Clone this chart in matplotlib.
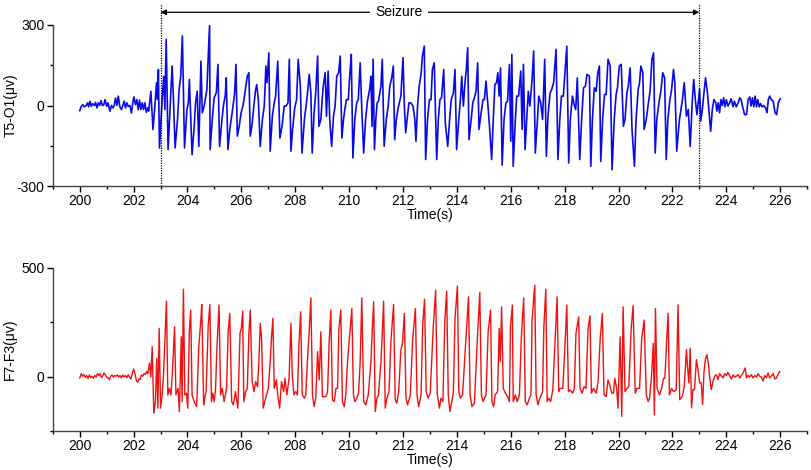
import matplotlib

matplotlib.use("Agg")
import matplotlib.pyplot as plt
import numpy as np
from matplotlib.ticker import MultipleLocator

plt.rcParams.update({
    "font.family": ["Liberation Sans", "DejaVu Sans"],
    "font.size": 10,
    "axes.linewidth": 1.0,
    "axes.edgecolor": "#444444",
    "axes.unicode_minus": False,
})

# ---- T5-O1 channel, (time s, amplitude uV) ---------------------------------
T5O1_PRE = [
    (200.00, -19), (200.06, -3), (200.11, 3), (200.17, -5), (200.24, 0), (200.29, 10),
    (200.33, -5), (200.38, 16), (200.43, -3), (200.48, 7), (200.55, 0), (200.59, 12),
    (200.64, -9), (200.69, 10), (200.74, 0), (200.79, 18), (200.84, 0), (200.89, 2),
    (200.94, 22), (201.00, -3), (201.05, 10), (201.12, -21), (201.18, 0), (201.23, -9),
    (201.28, 0), (201.33, 28), (201.38, 0), (201.43, 35), (201.49, -5), (201.55, -15),
    (201.60, 0), (201.65, 16), (201.70, -9), (201.75, 10), (201.80, -3), (201.86, 0),
    (201.92, -28), (201.97, 10), (202.01, 32), (202.07, 3), (202.12, 22), (202.17, -15),
    (202.22, 20), (202.27, -15), (202.32, 10), (202.37, -15), (202.42, 10), (202.47, -25),
    (202.52, -9), (202.56, -21),
]
T5O1_SEIZ_A = [
    (202.64, 53), (202.72, -89), (202.79, -2), (202.85, 85), (202.89, 22), (202.92, 134),
    (202.96, -158), (203.02, -52), (203.07, 41), (203.12, 109), (203.16, -15), (203.21, 246),
    (203.28, -164), (203.36, -2), (203.43, 147), (203.48, 22), (203.54, -158), (203.63, -52),
    (203.69, 60), (203.75, 109), (203.81, 259), (203.89, -158), (203.98, -15), (204.03, 10),
    (204.07, 97), (204.17, -183), (204.25, -77), (204.30, 10), (204.36, 53), (204.42, -152),
    (204.50, 165), (204.55, -27), (204.62, -2), (204.72, 60), (204.82, 302), (204.84, -164),
    (204.92, -52), (204.99, 29), (205.07, 47), (205.13, 153), (205.19, -152), (205.28, -52),
    (205.34, 4), (205.40, 35), (205.44, 103), (205.50, -164), (205.57, -89), (205.64, -40),
    (205.69, -2), (205.75, 47), (205.80, 153), (205.85, -114), (205.92, -77), (205.99, -27),
    (206.07, 4), (206.13, 47), (206.22, 109), (206.28, 122), (206.33, -114), (206.39, -77),
    (206.45, -15), (206.52, 53), (206.57, 78), (206.63, 22), (206.70, -152), (206.78, -52),
    (206.85, -2), (206.91, 147), (206.95, 85), (207.02, 196), (207.07, -170), (207.15, -40),
    (207.22, 10), (207.27, 35), (207.35, 165), (207.43, -121), (207.51, -77), (207.59, -2),
    (207.66, -2), (207.73, 10), (207.78, 172), (207.84, -170), (207.90, -89), (207.98, -9),
    (208.05, 22), (208.11, 172), (208.19, 72), (208.25, -177), (208.34, -52),
]
T5O1_SEIZ_B = [
    (208.43, 22), (208.52, 116), (208.58, 47), (208.63, -177), (208.70, -27), (208.76, 47),
    (208.83, 184), (208.88, -77), (208.95, -52), (209.00, 22), (209.04, 72), (209.11, 122),
    (209.16, -40), (209.22, 128), (209.28, -52), (209.35, -152), (209.42, -40), (209.48, -2),
    (209.54, 109), (209.61, 122), (209.67, 184), (209.73, -121), (209.79, -52), (209.84, -15),
    (209.90, 22), (209.97, 22), (210.03, 122), (210.08, 190), (210.14, -195), (210.21, -52),
    (210.28, 10), (210.34, 22), (210.41, 159), (210.47, -15), (210.54, -177), (210.61, -52),
    (210.68, 16), (210.76, 60), (210.81, 109), (210.85, -77), (210.89, 172), (210.94, -164),
    (210.99, -52), (211.04, 10), (211.09, 16), (211.18, 72), (211.23, 172), (211.30, -152),
    (211.38, -52), (211.45, -2), (211.51, 72), (211.58, 103), (211.64, 147), (211.69, -127),
    (211.75, -52), (211.82, -9), (211.92, 35), (212.00, 178), (212.05, -2), (212.10, -102),
    (212.15, -52), (212.22, 10), (212.29, 10), (212.37, -2), (212.44, -52), (212.48, -133),
    (212.54, -2), (212.60, 72), (212.67, 116), (212.72, 184), (212.79, 221), (212.84, -201),
    (212.91, -52), (212.98, 22), (213.04, 22), (213.09, 134), (213.16, 159), (213.25, -201),
    (213.31, -52), (213.37, 22), (213.43, 29), (213.51, 134), (213.57, -65), (213.66, -152),
    (213.73, -52), (213.79, 22), (213.87, 47), (213.93, 134), (213.99, -164), (214.07, -52),
    (214.13, 22), (214.18, 109), (214.24, -2), (214.30, 85), (214.35, 134), (214.40, 215),
    (214.45, -127), (214.53, -52), (214.59, 10), (214.65, 29), (214.71, 53), (214.77, 159),
    (214.82, -89), (214.90, -27), (214.97, 22), (215.02, 22), (215.08, 91), (215.14, 16),
    (215.21, -77),
]
T5O1_SEIZ_C = [
    (215.29, -201), (215.35, -52), (215.41, 78), (215.47, 85), (215.52, 122), (215.57, 35),
    (215.62, 140), (215.68, -222), (215.75, -52), (215.82, 10), (215.88, 16), (215.95, 153),
    (216.00, -133), (216.04, 190), (216.09, -226), (216.17, -52), (216.22, 35), (216.29, 35),
    (216.37, 128), (216.42, -89), (216.47, 153), (216.53, -164), (216.59, -52), (216.65, 53),
    (216.71, -2), (216.79, 97), (216.85, 203), (216.91, -177), (216.99, -52), (217.04, 35),
    (217.11, 10), (217.18, -52), (217.26, 172), (217.32, -189), (217.38, -40), (217.46, 47),
    (217.52, 60), (217.59, 85), (217.68, 209), (217.75, -201), (217.82, -52), (217.88, 35),
    (217.95, 35), (218.03, 153), (218.08, 221), (218.15, -214), (218.21, -52), (218.29, 35),
    (218.35, 4), (218.41, -15), (218.47, 103), (218.56, -201), (218.63, -52), (218.70, 66),
    (218.77, 72), (218.83, 116), (218.92, 109), (218.97, -226), (219.03, -52), (219.10, 66),
    (219.17, 53), (219.23, 122), (219.29, 147), (219.34, -208), (219.41, -52), (219.48, 41),
    (219.54, 41), (219.61, 172), (219.69, 147), (219.76, -239), (219.84, -52), (219.91, 41),
    (219.96, 66), (220.03, 147), (220.10, 153), (220.18, -77), (220.24, -52), (220.31, 47),
    (220.36, 72), (220.43, 140), (220.50, -89), (220.59, -226), (220.65, -52), (220.73, 60),
    (220.78, 85), (220.83, 147), (220.90, 122), (220.95, -89), (221.03, -52), (221.10, 4),
    (221.17, 53), (221.24, 172), (221.30, 196), (221.36, -177), (221.42, -52), (221.50, 10),
    (221.57, 53), (221.64, 122), (221.71, 103), (221.77, -201), (221.83, -52), (221.90, 16),
    (221.97, 60), (222.04, 134), (222.09, 85), (222.16, -170), (222.26, -52),
]
T5O1_POST = [
    (222.29, -34), (222.37, 22), (222.44, 85), (222.52, -40), (222.59, -15), (222.66, -152),
    (222.74, 22), (222.79, 97), (222.85, 22), (222.91, -34), (222.97, 22), (223.01, 60),
    (223.05, -58), (223.11, -15), (223.17, 47), (223.23, 103), (223.30, 47), (223.36, -27),
    (223.42, -96), (223.48, -15), (223.54, 22), (223.61, 10), (223.65, -21), (223.70, 10),
    (223.75, -27), (223.80, 22), (223.85, 0), (223.90, 29), (223.95, -5), (224.00, 22),
    (224.06, -2), (224.13, 12), (224.18, 25), (224.25, -5), (224.30, 16), (224.37, -5),
    (224.44, 10), (224.50, 29), (224.55, 22), (224.60, -2), (224.68, -34), (224.75, -34),
    (224.81, 22), (224.87, 32), (224.92, -2), (224.97, 29), (225.02, -5), (225.07, 35),
    (225.12, -5), (225.17, 22), (225.22, -5), (225.27, 7), (225.33, -5), (225.39, 0),
    (225.46, -9), (225.51, -27), (225.56, 22), (225.61, 35), (225.67, 22), (225.74, 16),
    (225.81, -27), (225.87, -34), (225.93, 10), (225.98, 22), (226.01, 25),
]

# ---- F7-F3 channel ----------------------------------------------------------
F7F3_PRE = [
    (200.00, -6), (200.06, 14), (200.11, 2), (200.16, 9), (200.21, -3), (200.26, 5),
    (200.31, -8), (200.36, 8), (200.41, -5), (200.46, 2), (200.51, -8), (200.56, 5),
    (200.61, -2), (200.66, 14), (200.71, 5), (200.76, 14), (200.81, -5), (200.86, 5),
    (200.90, 17), (200.95, 8), (201.00, -2), (201.05, -5), (201.10, -14), (201.15, 2),
    (201.20, 8), (201.25, -2), (201.30, 5), (201.35, 2), (201.40, 8), (201.45, -2),
    (201.50, 5), (201.55, -6), (201.60, 8), (201.65, -2), (201.70, 5), (201.75, -5),
    (201.80, 8), (201.85, -2), (201.90, -11), (201.95, 14), (202.00, 35), (202.05, 14),
    (202.10, -17), (202.15, -26), (202.20, -11), (202.24, -14), (202.29, 8), (202.34, 2),
    (202.39, 14), (202.44, 11), (202.49, 24), (202.53, 14), (202.59, 63), (202.64, -2),
]
F7F3_SEIZ_A = [
    (202.69, 138), (202.75, -168), (202.81, -115), (202.86, 84), (202.90, -145), (202.95, 222),
    (203.00, -145), (203.06, -84), (203.11, 8), (203.16, 161), (203.22, 347), (203.27, -84),
    (203.33, -54), (203.39, -84), (203.46, 69), (203.52, 229), (203.57, -84), (203.65, -54),
    (203.70, -161), (203.77, 183), (203.80, -115), (203.85, 402), (203.90, -84), (203.96, -76),
    (204.01, -145), (204.07, 214), (204.12, 306), (204.17, -84), (204.25, -115), (204.34, -138),
    (204.42, 138), (204.50, 268), (204.53, 332), (204.60, -130), (204.64, -99), (204.69, -69),
    (204.77, 237), (204.83, 332), (204.89, -115), (204.94, -76), (204.99, -115), (205.04, -61),
    (205.10, 153), (205.17, 329), (205.23, -84), (205.29, -54), (205.36, -115), (205.45, -54),
    (205.51, 206), (205.57, 291), (205.64, -115), (205.70, -130), (205.78, -69), (205.87, -145),
    (205.95, 199), (206.00, 222), (206.05, 301), (206.09, -115), (206.16, -69), (206.22, -54),
    (206.28, 199), (206.33, 306), (206.40, -23), (206.47, -69), (206.53, -23), (206.60, -46),
    (206.65, 69), (206.70, 245), (206.75, 176), (206.81, -145), (206.90, -99), (207.00, -54),
    (207.07, 69), (207.12, 183), (207.17, 268), (207.22, -54), (207.30, -15), (207.35, -84),
    (207.42, -145), (207.49, -23), (207.57, -69), (207.62, -8), (207.69, -84), (207.77, -8),
    (207.84, 245), (207.89, 8), (207.95, -84), (208.02, -69), (208.08, -84), (208.14, 153),
    (208.20, 298), (208.26, -84), (208.34, -99),
]
F7F3_SEIZ_B = [
    (208.39, -84), (208.45, 69), (208.52, 214), (208.58, 362), (208.64, -84), (208.70, -138),
    (208.76, -99), (208.83, 115), (208.89, -15), (208.95, 206), (209.01, -92), (209.07, -92),
    (209.14, -92), (209.20, -69), (209.26, 161), (209.32, 306), (209.38, -107), (209.45, -115),
    (209.51, -54), (209.57, -54), (209.62, 222), (209.69, 306), (209.75, -115), (209.82, -138),
    (209.88, -76), (209.94, 69), (210.03, 206), (210.10, 313), (210.16, -84), (210.21, -115),
    (210.29, -99), (210.35, -76), (210.41, 69), (210.47, 362), (210.54, -115), (210.62, -130),
    (210.71, -84), (210.81, 69), (210.87, 245), (210.91, 344), (210.97, -161), (211.03, -99),
    (211.09, -84), (211.18, 69), (211.23, 199), (211.28, 347), (211.34, -145), (211.40, -99),
    (211.48, -69), (211.55, 161), (211.65, 332), (211.71, -107), (211.77, -122), (211.84, -69),
    (211.92, 122), (211.98, 153), (212.05, 291), (212.11, -99), (212.17, -130), (212.27, -84),
    (212.36, 176), (212.46, 313), (212.52, -84), (212.58, -138), (212.67, -84), (212.73, 237),
    (212.80, 356), (212.86, -69), (212.93, -99), (213.01, -76), (213.12, 222), (213.21, 398),
    (213.27, -76), (213.35, -145), (213.41, -99), (213.48, -115), (213.55, 252), (213.62, 393),
    (213.68, -84), (213.74, -161), (213.81, -115), (213.87, -69), (213.93, 268), (214.02, 417),
    (214.07, -69), (214.13, -99), (214.21, -84), (214.34, 183), (214.43, 367), (214.49, -84),
    (214.56, -138), (214.65, -122), (214.76, 176), (214.85, 387), (214.91, -84), (214.97, -115),
    (215.08, -84), (215.16, 206),
]
F7F3_SEIZ_C = [
    (215.25, 306), (215.30, -115), (215.36, -138), (215.42, -84), (215.51, -69), (215.57, 222),
    (215.61, 69), (215.66, 321), (215.72, -54), (215.80, -76), (215.88, -92), (215.95, -115),
    (215.99, 237), (216.06, 329), (216.09, -115), (216.17, -84), (216.24, -115), (216.32, -84),
    (216.39, 176), (216.48, 362), (216.54, -115), (216.61, -130), (216.69, -99), (216.75, -84),
    (216.79, 260), (216.89, 420), (216.94, -84), (217.01, -130), (217.08, -99), (217.18, -69),
    (217.23, 237), (217.30, 402), (217.35, -115), (217.41, -99), (217.48, -115), (217.56, -61),
    (217.65, 176), (217.72, 367), (217.78, -69), (217.83, -54), (217.93, -54), (218.00, 115),
    (218.08, 329), (218.14, -69), (218.20, -61), (218.30, -76), (218.36, -54), (218.42, 199),
    (218.52, 275), (218.57, -54), (218.65, -76), (218.72, -46), (218.79, -54), (218.87, 222),
    (218.94, 280), (218.99, -76), (219.07, -54), (219.17, -76), (219.24, -23), (219.32, 176),
    (219.40, 291), (219.46, -84), (219.54, -92), (219.61, -15), (219.69, -46), (219.75, -76),
    (219.81, -76), (219.86, -8), (219.93, -54), (219.98, -145), (220.06, 183), (220.12, -183),
    (220.17, 321), (220.24, -69), (220.31, -54), (220.38, -46), (220.47, 222), (220.54, 326),
    (220.62, -76), (220.68, -54), (220.78, -54), (220.86, 176), (220.95, 260), (221.03, -84),
    (221.10, -115), (221.15, -99), (221.22, -8), (221.29, 153), (221.33, -176), (221.37, 313),
    (221.43, -54), (221.52, -84), (221.60, -54), (221.67, -8), (221.72, -8), (221.79, 176),
    (221.84, 291), (221.89, -84), (221.97, -54), (222.04, -69), (222.14, -61), (222.21, 330),
]
F7F3_POST = [
    (222.27, -106), (222.37, -90), (222.44, -44), (222.52, 124), (222.56, 47), (222.61, -29),
    (222.66, 131), (222.71, -144), (222.76, -60), (222.82, -60), (222.89, 78), (222.95, 32),
    (223.01, -29), (223.07, -29), (223.12, -128), (223.17, 17), (223.22, 78), (223.28, 101),
    (223.33, 63), (223.38, 2), (223.44, -60), (223.51, -21), (223.57, 2), (223.63, 9),
    (223.69, -14), (223.75, 14), (223.82, 2), (223.88, -6), (223.94, 14), (224.00, 5),
    (224.06, 20), (224.13, 2), (224.19, -11), (224.25, 8), (224.31, -2), (224.37, 2),
    (224.44, 9), (224.50, -6), (224.56, 5), (224.62, 17), (224.70, 40), (224.75, -6),
    (224.81, 5), (224.87, -2), (224.93, 9), (224.99, -6), (225.06, 5), (225.12, -2),
    (225.18, 14), (225.24, 2), (225.30, -2), (225.36, -21), (225.43, 5), (225.49, -6),
    (225.55, 17), (225.61, -6), (225.67, 2), (225.74, 14), (225.80, -11), (225.86, -6),
    (225.92, 9), (225.98, 24),
]

SEIZURE_START, SEIZURE_END = 203, 223
XTICKS = list(range(200, 227, 2))


def trace(*segments):
    arr = np.array([p for seg in segments for p in seg])
    return arr[:, 0], arr[:, 1]


def style_axis(ax, ylim, ymajor, yminor, ylabel):
    ax.set_xlim(199, 227)
    ax.set_ylim(*ylim)
    ax.set_xticks(XTICKS)
    ax.xaxis.set_minor_locator(MultipleLocator(1))
    ax.yaxis.set_major_locator(MultipleLocator(ymajor))
    ax.yaxis.set_minor_locator(MultipleLocator(yminor))
    for s in ("top", "right"):
        ax.spines[s].set_visible(False)
    ax.tick_params(which="major", direction="out", length=4, width=1,
                   labelsize=10, pad=2)
    ax.tick_params(which="minor", direction="out", length=2.5, width=1)
    ax.set_xlabel("Time(s)", fontsize=10, labelpad=0)
    ax.set_ylabel(ylabel, fontsize=10)
    # anchor is the label's right edge once rotated
    ax.yaxis.set_label_coords(-0.047, 0.5)


fig = plt.figure(figsize=(8.12, 4.70), dpi=100)
ax1 = fig.add_axes([0.065, 0.604, 0.929, 0.343])
ax2 = fig.add_axes([0.065, 0.083, 0.929, 0.347])

t1, v1 = trace(T5O1_PRE, T5O1_SEIZ_A, T5O1_SEIZ_B, T5O1_SEIZ_C, T5O1_POST)
ax1.plot(t1, v1, color="#0a0ae6", lw=1.2)
style_axis(ax1, (-300, 300), 300, 150, "T5-O1(\u03bcv)")

t2, v2 = trace(F7F3_PRE, F7F3_SEIZ_A, F7F3_SEIZ_B, F7F3_SEIZ_C, F7F3_POST)
ax2.plot(t2, v2, color="#f01010", lw=1.0)
style_axis(ax2, (-250, 500), 500, 250, "F7-F3(\u03bcv)")

# seizure markers: dotted lines running above the axes + double arrow
for x in (SEIZURE_START, SEIZURE_END):
    ax1.plot([x, x], [-300, 378], color="black", ls=(0, (1, 1)), lw=0.9,
             clip_on=False)
ax1.annotate("", xy=(SEIZURE_START, 347), xytext=(SEIZURE_END, 347),
             arrowprops=dict(arrowstyle="<|-|>", color="black", lw=0.9,
                             mutation_scale=8, shrinkA=0, shrinkB=0),
             annotation_clip=False)
ax1.text(211.85, 347, "Seizure", ha="center", va="center", fontsize=10,
         bbox=dict(facecolor="white", edgecolor="none", pad=4), clip_on=False)

fig.savefig("out.png", dpi=100)
